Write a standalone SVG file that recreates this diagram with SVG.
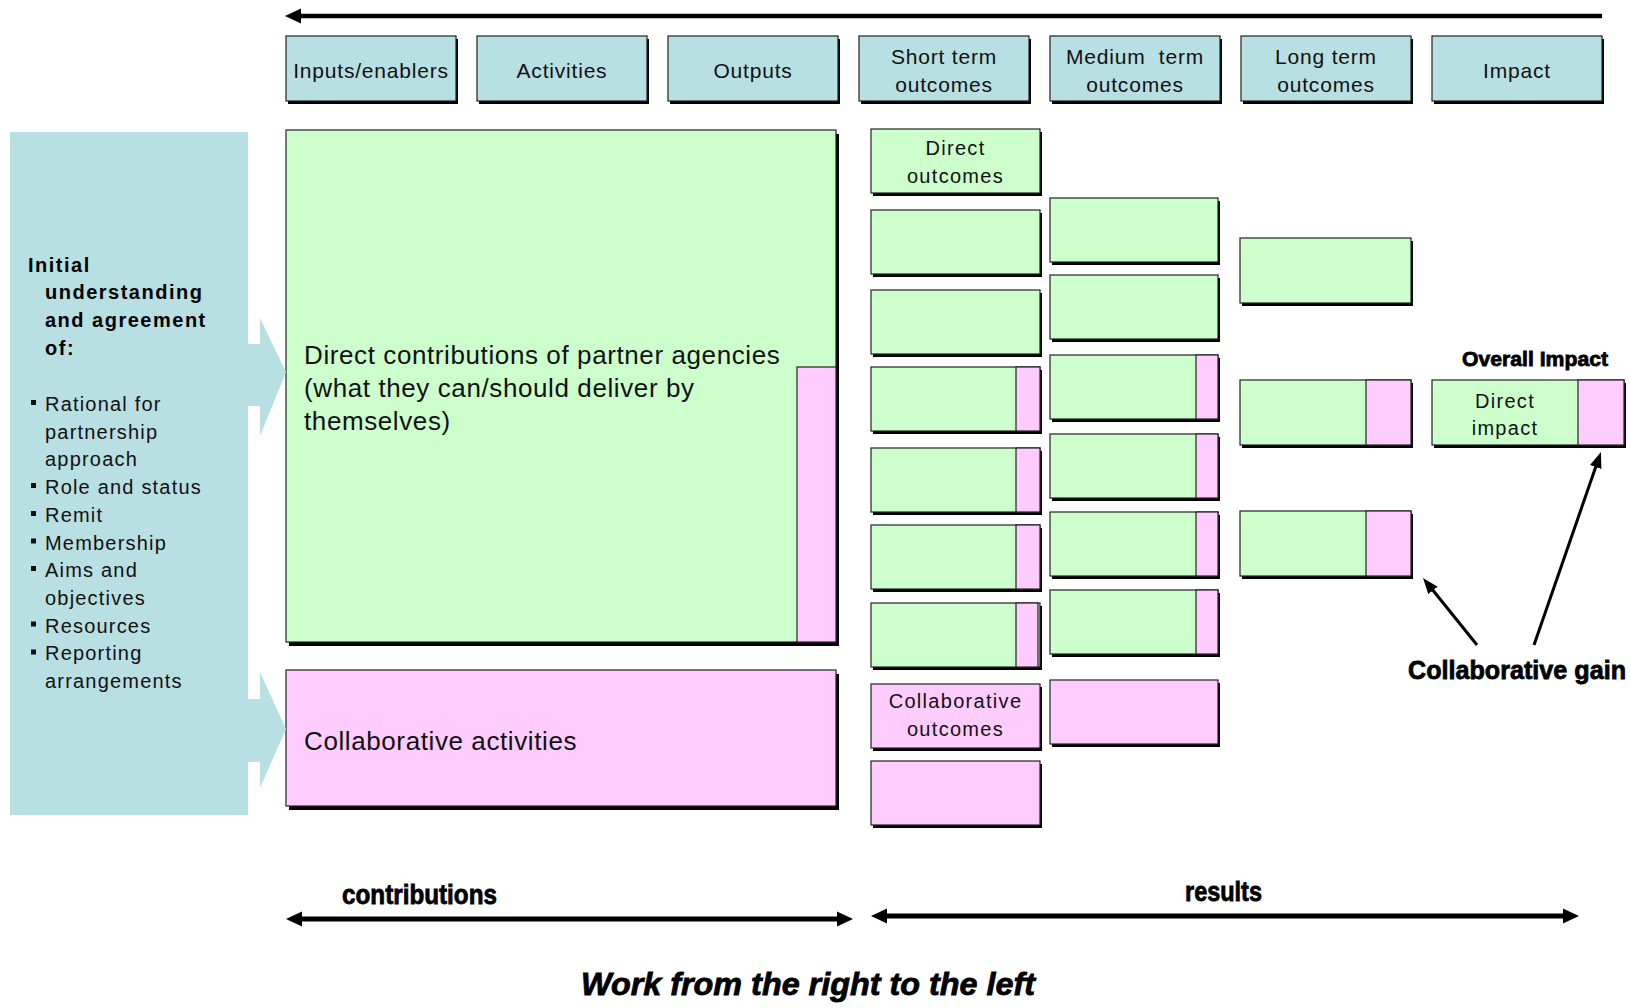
<svg xmlns="http://www.w3.org/2000/svg" width="1631" height="1008" viewBox="0 0 1631 1008">
  <defs>
    <style>
      .sh{fill:#000}
      .hd{fill:#b8dfe2;stroke:#222;stroke-width:1.2}
      .gr{fill:#ccffcc;stroke:#222;stroke-width:1.2}
      .pk{fill:#ffccff;stroke:#222;stroke-width:1.2}
      .panel{fill:#b8dfe2}
      text{font-family:"Liberation Sans",Arial,sans-serif;fill:#111}
      .h{font-size:21px;letter-spacing:0.8px;text-anchor:middle}
      .c{font-size:20px;letter-spacing:1.3px;text-anchor:middle}
      .big{font-size:26px;letter-spacing:0.6px}
      .lb{font-size:20px;font-weight:bold;letter-spacing:1.5px;fill:#000}
      .li{font-size:20px;letter-spacing:1.2px}
      .bd{font-weight:bold;fill:#000}
      .heavy{stroke:#000;stroke-width:0.8px}
      .ln{stroke:#000;fill:none}
      .bul{fill:#111}
    </style>
    <marker id="thick" viewBox="0 0 16 16" refX="4" refY="8" markerWidth="16" markerHeight="16" markerUnits="userSpaceOnUse" orient="auto-start-reverse">
      <path d="M0,0.5 L16,8 L0,15.5 Z" fill="#000"/>
    </marker>
    <marker id="thin" viewBox="0 0 16 12" refX="4" refY="6" markerWidth="16" markerHeight="12" markerUnits="userSpaceOnUse" orient="auto">
      <path d="M0,0 L16,6 L0,12 Z" fill="#000"/>
    </marker>
  </defs>

  <rect width="1631" height="1008" fill="#fff"/>

  <!-- left panel with its two block arrows -->
  <g id="agreement-panel">
    <rect class="panel" x="10" y="132" width="238" height="683"/>
    <text class="lb" x="28" y="271.5">Initial</text>
    <text class="lb" x="45" y="299">understanding</text>
    <text class="lb" x="45" y="327">and agreement</text>
    <text class="lb" x="45" y="354.5">of:</text>
    <rect class="bul" x="31" y="400" width="5" height="5"/>
    <text class="li" x="45" y="411">Rational for</text>
    <text class="li" x="45" y="438.7">partnership</text>
    <text class="li" x="45" y="466.4">approach</text>
    <rect class="bul" x="31" y="483" width="5" height="5"/>
    <text class="li" x="45" y="494.1">Role and status</text>
    <rect class="bul" x="31" y="511" width="5" height="5"/>
    <text class="li" x="45" y="521.8">Remit</text>
    <rect class="bul" x="31" y="538.5" width="5" height="5"/>
    <text class="li" x="45" y="549.5">Membership</text>
    <rect class="bul" x="31" y="566" width="5" height="5"/>
    <text class="li" x="45" y="577.2">Aims and</text>
    <text class="li" x="45" y="604.9">objectives</text>
    <rect class="bul" x="31" y="621.5" width="5" height="5"/>
    <text class="li" x="45" y="632.6">Resources</text>
    <rect class="bul" x="31" y="649.5" width="5" height="5"/>
    <text class="li" x="45" y="660.3">Reporting</text>
    <text class="li" x="45" y="688">arrangements</text>
  </g>

  <!-- column headings -->
  <g id="hdr-inputs">
    <rect class="sh" x="288" y="39" width="170" height="65"/>
    <rect class="hd" x="286" y="36" width="170" height="65"/>
    <text class="h" x="371" y="78">Inputs/enablers</text>
  </g>
  <g id="hdr-activities">
    <rect class="sh" x="479" y="39" width="170" height="65"/>
    <rect class="hd" x="477" y="36" width="170" height="65"/>
    <text class="h" x="562" y="78">Activities</text>
  </g>
  <g id="hdr-outputs">
    <rect class="sh" x="670" y="39" width="170" height="65"/>
    <rect class="hd" x="668" y="36" width="170" height="65"/>
    <text class="h" x="753" y="78">Outputs</text>
  </g>
  <g id="hdr-short">
    <rect class="sh" x="861" y="39" width="170" height="65"/>
    <rect class="hd" x="859" y="36" width="170" height="65"/>
    <text class="h" x="944" y="64">Short term</text>
    <text class="h" x="944" y="92">outcomes</text>
  </g>
  <g id="hdr-medium">
    <rect class="sh" x="1052" y="39" width="170" height="65"/>
    <rect class="hd" x="1050" y="36" width="170" height="65"/>
    <text class="h" x="1135" y="64" xml:space="preserve">Medium  term</text>
    <text class="h" x="1135" y="92">outcomes</text>
  </g>
  <g id="hdr-long">
    <rect class="sh" x="1243" y="39" width="170" height="65"/>
    <rect class="hd" x="1241" y="36" width="170" height="65"/>
    <text class="h" x="1326" y="64">Long term</text>
    <text class="h" x="1326" y="92">outcomes</text>
  </g>
  <g id="hdr-impact">
    <rect class="sh" x="1434" y="39" width="170" height="65"/>
    <rect class="hd" x="1432" y="36" width="170" height="65"/>
    <text class="h" x="1517" y="78">Impact</text>
  </g>

  <!-- contributions -->
  <g id="direct-contributions">
    <rect class="sh" x="289" y="134" width="550" height="512"/>
    <rect class="gr" x="286" y="130" width="550" height="512"/>
    <rect class="pk" x="797" y="367" width="39" height="275"/>
    <text class="big" x="304" y="364">Direct contributions of partner agencies</text>
    <text class="big" x="304" y="397">(what they can/should deliver by</text>
    <text class="big" x="304" y="430">themselves)</text>
  </g>
  <g id="collaborative-activities">
    <rect class="sh" x="289" y="674" width="550" height="136"/>
    <rect class="pk" x="286" y="670" width="550" height="136"/>
    <text class="big" x="304" y="750">Collaborative activities</text>
  </g>

  <!-- short term outcomes -->
  <g id="st-1">
    <rect class="sh" x="873" y="132" width="169" height="64"/>
    <rect class="gr" x="871" y="129" width="169" height="64"/>
    <text class="c" x="955.5" y="155">Direct</text>
    <text class="c" x="955.5" y="183">outcomes</text>
  </g>
  <g id="st-2">
    <rect class="sh" x="873" y="213" width="169" height="64"/>
    <rect class="gr" x="871" y="210" width="169" height="64"/>
  </g>
  <g id="st-3">
    <rect class="sh" x="873" y="293" width="169" height="64"/>
    <rect class="gr" x="871" y="290" width="169" height="64"/>
  </g>
  <g id="st-4">
    <rect class="sh" x="873" y="370" width="169" height="64"/>
    <rect class="gr" x="871" y="367" width="169" height="64"/>
    <rect class="pk" x="1016" y="367" width="24" height="64"/>
  </g>
  <g id="st-5">
    <rect class="sh" x="873" y="451" width="169" height="64"/>
    <rect class="gr" x="871" y="448" width="169" height="64"/>
    <rect class="pk" x="1016" y="448" width="24" height="64"/>
  </g>
  <g id="st-6">
    <rect class="sh" x="873" y="528" width="169" height="64"/>
    <rect class="gr" x="871" y="525" width="169" height="64"/>
    <rect class="pk" x="1016" y="525" width="24" height="64"/>
  </g>
  <g id="st-7">
    <rect class="sh" x="873" y="606" width="169" height="64"/>
    <rect class="gr" x="871" y="603" width="169" height="64"/>
    <rect class="pk" x="1016" y="603" width="22" height="64"/>
  </g>
  <g id="st-8">
    <rect class="sh" x="873" y="687" width="169" height="64"/>
    <rect class="pk" x="871" y="684" width="169" height="64"/>
    <text class="c" x="955.5" y="708">Collaborative</text>
    <text class="c" x="955.5" y="736">outcomes</text>
  </g>
  <g id="st-9">
    <rect class="sh" x="873" y="764" width="169" height="64"/>
    <rect class="pk" x="871" y="761" width="169" height="64"/>
  </g>

  <!-- medium term outcomes -->
  <g id="mt-1">
    <rect class="sh" x="1052" y="201" width="168" height="64"/>
    <rect class="gr" x="1050" y="198" width="168" height="64"/>
  </g>
  <g id="mt-2">
    <rect class="sh" x="1052" y="278" width="168" height="64"/>
    <rect class="gr" x="1050" y="275" width="168" height="64"/>
  </g>
  <g id="mt-3">
    <rect class="sh" x="1052" y="358" width="168" height="64"/>
    <rect class="gr" x="1050" y="355" width="168" height="64"/>
    <rect class="pk" x="1196" y="355" width="22" height="64"/>
  </g>
  <g id="mt-4">
    <rect class="sh" x="1052" y="437" width="168" height="64"/>
    <rect class="gr" x="1050" y="434" width="168" height="64"/>
    <rect class="pk" x="1196" y="434" width="22" height="64"/>
  </g>
  <g id="mt-5">
    <rect class="sh" x="1052" y="515" width="168" height="64"/>
    <rect class="gr" x="1050" y="512" width="168" height="64"/>
    <rect class="pk" x="1196" y="512" width="22" height="64"/>
  </g>
  <g id="mt-6">
    <rect class="sh" x="1052" y="593" width="168" height="64"/>
    <rect class="gr" x="1050" y="590" width="168" height="64"/>
    <rect class="pk" x="1196" y="590" width="22" height="64"/>
  </g>
  <g id="mt-7">
    <rect class="sh" x="1052" y="683" width="168" height="64"/>
    <rect class="pk" x="1050" y="680" width="168" height="64"/>
  </g>

  <!-- long term outcomes -->
  <g id="lt-1">
    <rect class="sh" x="1242" y="241" width="171" height="65"/>
    <rect class="gr" x="1240" y="238" width="171" height="65"/>
  </g>
  <g id="lt-2">
    <rect class="sh" x="1242" y="383" width="171" height="65"/>
    <rect class="gr" x="1240" y="380" width="171" height="65"/>
    <rect class="pk" x="1366" y="380" width="45" height="65"/>
  </g>
  <g id="lt-3">
    <rect class="sh" x="1242" y="514" width="171" height="65"/>
    <rect class="gr" x="1240" y="511" width="171" height="65"/>
    <rect class="pk" x="1366" y="511" width="45" height="65"/>
  </g>

  <!-- impact -->
  <g id="overall-impact">
    <text class="bd heavy" x="1462" y="366" font-size="21" textLength="146" lengthAdjust="spacingAndGlyphs">Overall Impact</text>
    <rect class="sh" x="1434" y="383" width="192" height="65"/>
    <rect class="gr" x="1432" y="380" width="192" height="65"/>
    <rect class="pk" x="1578" y="380" width="46" height="65"/>
    <text class="c" x="1505" y="408">Direct</text>
    <text class="c" x="1505" y="435">impact</text>
  </g>

  <g id="gain-label">
    <text class="bd heavy" x="1408" y="679" font-size="26" textLength="218" lengthAdjust="spacingAndGlyphs">Collaborative gain</text>
  </g>

  <!-- block arrows from the panel -->
  <g id="panel-arrows">
    <path class="panel" d="M246,344 L260,344 L260,318 L286,372 L260,436 L260,406 L246,406 Z"/>
    <path class="panel" d="M246,699 L260,699 L260,672 L286,729 L260,788 L260,762 L246,762 Z"/>
  </g>

  <!-- connectors -->
  <g id="connectors">
    <line class="ln" x1="1602" y1="16" x2="297" y2="16" stroke-width="4.5" marker-end="url(#thick)"/>
    <line class="ln" x1="298" y1="919" x2="841" y2="919" stroke-width="5" marker-start="url(#thick)" marker-end="url(#thick)"/>
    <line class="ln" x1="883" y1="916" x2="1567" y2="916" stroke-width="5" marker-start="url(#thick)" marker-end="url(#thick)"/>
    <line class="ln" x1="1477" y1="645" x2="1430.5" y2="587.3" stroke-width="3" marker-end="url(#thin)"/>
    <line class="ln" x1="1534" y1="645" x2="1597" y2="463.3" stroke-width="3" marker-end="url(#thin)"/>
  </g>

  <!-- axis labels -->
  <g id="axis-labels">
    <text class="bd heavy" x="342" y="904" font-size="28" textLength="155" lengthAdjust="spacingAndGlyphs">contributions</text>
    <text class="bd heavy" x="1185" y="901" font-size="28" textLength="77" lengthAdjust="spacingAndGlyphs">results</text>
    <text class="bd heavy" x="581" y="995" font-size="31" font-style="italic" textLength="454" lengthAdjust="spacingAndGlyphs">Work from the right to the left</text>
  </g>
</svg>
